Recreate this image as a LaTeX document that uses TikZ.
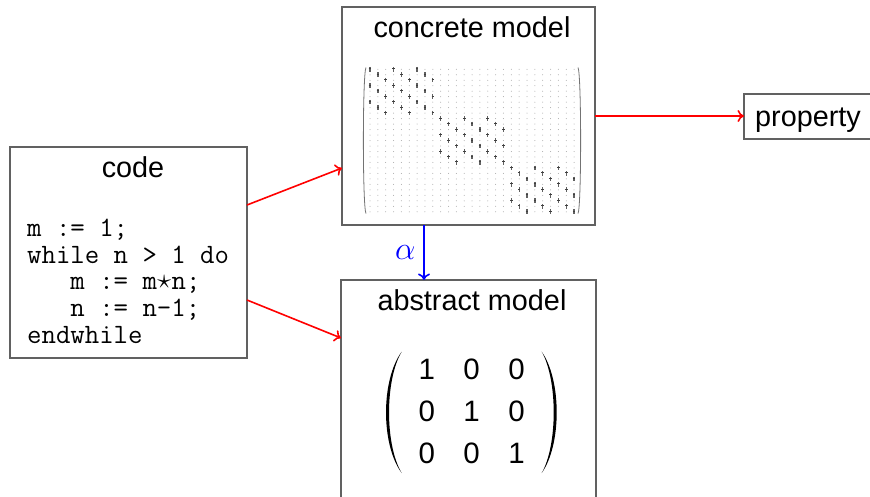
\RequirePackage{fix-cm}
\documentclass[tikz,border=0pt]{standalone}
\usepackage{fontspec}
\setmainfont{Liberation Sans}
\usetikzlibrary{arrows.meta}
\begin{document}
\begin{tikzpicture}[x=1pt,y=-1pt,
  box/.style={draw=black!62,line width=1.2pt,inner sep=0pt,outer sep=0pt},
  title/.style={anchor=base,inner sep=0pt,font=\fontsize{28.8}{34}\selectfont},
  codeline/.style={anchor=base west,inner sep=0pt,font=\ttfamily\fontsize{28}{30}\selectfont},
  digit/.style={anchor=base,inner sep=0pt,font=\fontsize{29.5}{34}\selectfont},
  redarrow/.style={-{To[length=6.5pt,width=12pt]},draw=red,line width=1.6pt},
  bluearrow/.style={-{To[length=6.5pt,width=12pt]},draw=blue,line width=1.6pt},
  nzmark/.style={draw=black!62,line width=1.3pt},
  zdot/.style={fill=black!35}]
\useasboundingbox (0,0) rectangle (870,496);
\fill[white] (0,0) rectangle (870,496);

% boxes
\node[box,minimum width=237pt,minimum height=211pt] (code) at (128.5,252.5) {};
\node[box,minimum width=253pt,minimum height=218pt] (concrete) at (468.5,116) {};
\node[box,minimum width=255pt,minimum height=320pt] (abstract) at (468.5,440) {};
\node[box,minimum width=156pt,minimum height=45pt] (prop) at (822,116.5) {};

% titles
\node[title] (codetitle) at (133,177) {code};
\node[title] (conctitle) at (472,37.5) {concrete model};
\node[title] (abstitle) at (472,310) {abstract model};
\node[title,anchor=base west] (proptitle) at (755,126) {property};

% code
\node[codeline] (l1) at (27,236.7) {m := 1;};
\node[codeline] (l2) at (27,263) {while n > 1 do};
\node[codeline] (l3) at (27,289.5) {\ \ \ m := m\makebox[0.525em]{\raisebox{0.02em}{$\star$}}n;};
\node[codeline] (l4) at (27,316.5) {\ \ \ n := n-1;};
\node[codeline] (l5) at (27,343.5) {endwhile};

% sparse matrix in concrete model
\foreach \i in {0,...,26}{
  \foreach \j in {0,...,26}{
    \pgfmathtruncatemacro\nz{(floor(\i/9)==floor(\j/9))*(mod(\i,3)==mod(\j,3))}
    \pgfmathsetmacro\px{370+7.85*\j}
    \pgfmathsetmacro\py{69.3+5.48*\i}
    \ifnum\nz=1
      \draw[nzmark] (\px,\py-2.4) -- (\px,\py+2.2);
      \draw[black!75,line width=0.8pt] (\px-1.3,\py-0.6) -- (\px+1.3,\py-0.6);
    \else
      \fill[zdot] (\px,\py) circle (0.5pt);
    \fi
  }
}
\draw[black!55,line width=0.8pt] (366,67.5) .. controls (362.5,74) and (362.5,207) .. (366,213.5);
\draw[black!55,line width=0.8pt] (578,67.5) .. controls (581.5,74) and (581.5,207) .. (578,213.5);

% abstract matrix
\foreach \r/\a/\b/\c [count=\k] in {379.3/1/0/0,421.7/0/1/0,463.3/0/0/1}{
  \node[digit] (m\k a) at (426.7,\r) {\a};
  \node[digit] (m\k b) at (471.5,\r) {\b};
  \node[digit] (m\k c) at (516.5,\r) {\c};
}
\fill[black] (401.7,351.7) .. controls (380.8,380) and (380.8,445) .. (401.7,473)
  .. controls (384.8,445) and (384.8,380) .. (401.7,351.7) -- cycle;
\fill[black] (541.7,351.7) .. controls (561.7,380) and (561.7,445) .. (541.7,473)
  .. controls (557.7,445) and (557.7,380) .. (541.7,351.7) -- cycle;

% connectors
\draw[redarrow] ([yshift=47.5pt]code.east) -- ([yshift=-52pt]concrete.west);
\draw[redarrow] ([yshift=-47.5pt]code.east) -- ([yshift=102pt]abstract.west);
\draw[redarrow] (concrete.east) -- (concrete.east -| prop.west);
\draw[bluearrow] ([xshift=-44.5pt]concrete.south) -- ([xshift=-44.5pt]abstract.north)
  node[pos=0.5,left=3pt,text=blue,scale=1.35,font=\fontsize{24}{28}\selectfont] (alpha) {$\alpha$};
\end{tikzpicture}
\end{document}
